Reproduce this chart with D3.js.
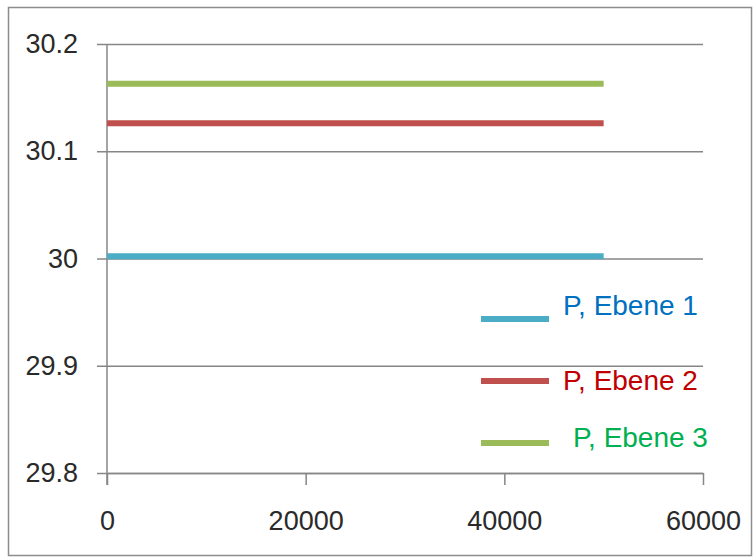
<!DOCTYPE html>
<html>
<head>
<meta charset="utf-8">
<script src="https://cdn.jsdelivr.net/npm/d3@7"></script>
<style>
  body { margin: 0; background: #fff; }
  svg text { font-family: "Liberation Sans", Arial, sans-serif; }
</style>
</head>
<body>
<div id="chart"></div>
<script>
// data
const xValues = [0, 50000];
const seriesNames = ["P, Ebene 1", "P, Ebene 2", "P, Ebene 3"];
const ebene1 = [30.002, 30.002];
const ebene2 = [30.126, 30.126];
const ebene3 = [30.163, 30.163];
const yTicks = [29.8, 29.9, 30, 30.1, 30.2];
const xTicks = [0, 20000, 40000, 60000];

const lineColors = ["#4bacc6", "#c0504d", "#9bbb59"];
const textColors = ["#0070c0", "#c00000", "#00b050"];

const width = 754;
const height = 559;
const marginTop = 44;
const marginLeft = 107;
const marginRight = 51;
const marginBottom = 86;
const chartWidth = width - marginLeft - marginRight;
const chartHeight = height - marginTop - marginBottom;

const svg = d3.select("#chart")
  .append("svg")
  .attr("width", width)
  .attr("height", height);

// outer frame
svg.append("rect")
  .attr("x", 8.5).attr("y", 7.5)
  .attr("width", width - 11).attr("height", height - 11)
  .attr("fill", "none")
  .attr("stroke", "#8c8c8c")
  .attr("stroke-width", 1.5);

const xScale = d3.scaleLinear().domain([0, 60000]).range([0, chartWidth]);
const yScale = d3.scaleLinear().domain([29.8, 30.2]).range([chartHeight, 0]);

const g = svg.append("g")
  .attr("transform", `translate(${marginLeft}, ${marginTop})`);

// y axis with gridlines
const yaxis = d3.axisLeft(yScale)
  .tickValues(yTicks)
  .tickSize(-chartWidth)
  .tickFormat(d3.format("~g"));

const yg = g.append("g").call(yaxis);
yg.select(".domain").remove();
yg.selectAll(".tick line")
  .attr("x1", -10)
  .attr("stroke", "#868686")
  .attr("stroke-width", 1.5);
yg.selectAll(".tick text")
  .attr("x", -29)
  .attr("font-size", 27)
  .attr("fill", "#2a2a2a");

// y axis line
g.append("line")
  .attr("x1", 0).attr("x2", 0)
  .attr("y1", 0).attr("y2", chartHeight + 12)
  .attr("stroke", "#868686")
  .attr("stroke-width", 1.5);

// x axis
const xaxis = d3.axisBottom(xScale)
  .tickValues(xTicks)
  .tickSize(12)
  .tickSizeOuter(0)
  .tickPadding(26)
  .tickFormat(d3.format("d"));

const xg = g.append("g")
  .attr("transform", `translate(0, ${chartHeight})`)
  .call(xaxis);
xg.select(".domain").attr("stroke", "#868686").attr("stroke-width", 1.5);
xg.selectAll(".tick line").attr("stroke", "#868686").attr("stroke-width", 1.5);
xg.selectAll(".tick text")
  .attr("font-size", 27)
  .attr("fill", "#2a2a2a");

// series lines
const series = [ebene1, ebene2, ebene3].map((vals, i) => ({
  name: seriesNames[i],
  points: xValues.map((x, j) => ({ x: x, y: vals[j] }))
}));

const line = d3.line()
  .x((d) => xScale(d.x))
  .y((d) => yScale(d.y));

g.append("g")
  .selectAll("path")
  .data(series)
  .join("path")
  .attr("d", (d) => line(d.points))
  .attr("fill", "none")
  .attr("stroke", (d, i) => lineColors[i])
  .attr("stroke-width", 6);

// legend
const legendX = [481, 549];
const legendY = [319, 381, 443];
const labelX = [563, 563, 573];
const labelY = [315, 390, 447];

const legend = svg.append("g");
seriesNames.forEach((name, i) => {
  legend.append("line")
    .attr("x1", legendX[0]).attr("x2", legendX[1])
    .attr("y1", legendY[i]).attr("y2", legendY[i])
    .attr("stroke", lineColors[i])
    .attr("stroke-width", 6);
  legend.append("text")
    .attr("x", labelX[i])
    .attr("y", labelY[i])
    .attr("font-size", 28)
    .attr("fill", textColors[i])
    .text(name);
});
</script>
</body>
</html>
